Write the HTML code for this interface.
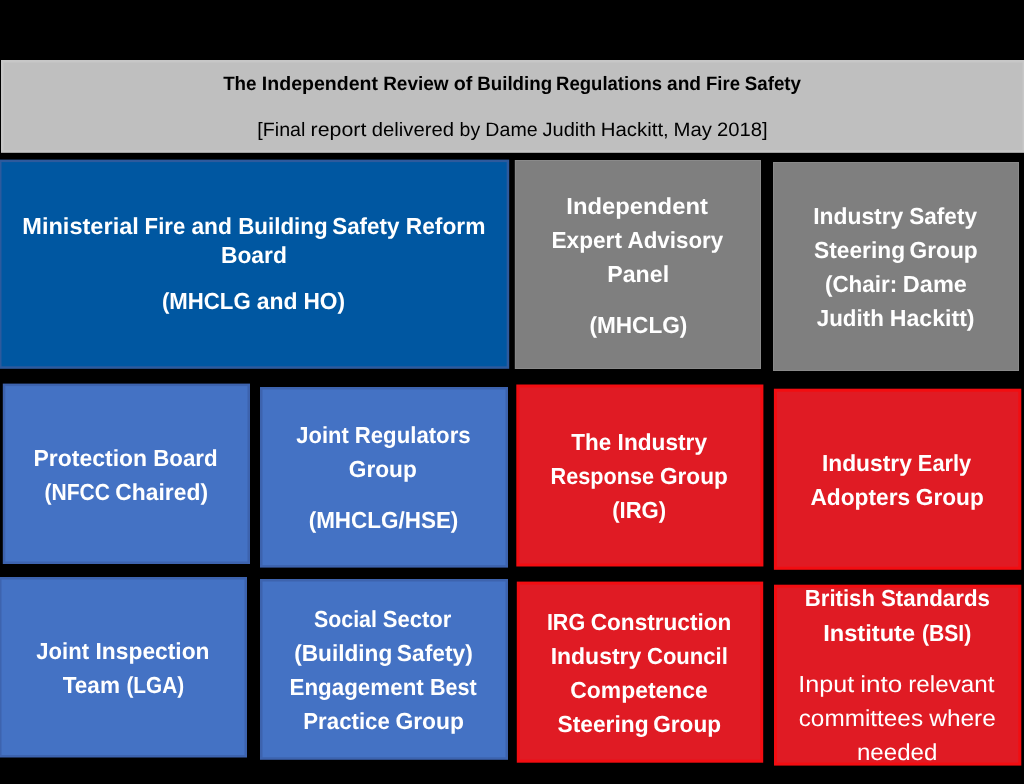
<!DOCTYPE html>
<html lang="en">
<head>
<meta charset="utf-8">
<title>The Independent Review of Building Regulations and Fire Safety</title>
<style>
html,body{margin:0;padding:0;background:#000;}
body{width:1024px;height:784px;overflow:hidden;}
svg#chart{display:block;width:1024px;height:784px;background:#000;}
text{font-family:"Liberation Sans",sans-serif;text-rendering:geometricPrecision;fill:#fff;font-size:23.2px;font-weight:700;}
.hdr text{fill:#000;font-size:19.4px;}
text.r{font-weight:400;}
</style>
</head>
<body>
<svg id="chart" width="1024" height="784" viewBox="0 0 1024 784">

<g class="box hdr" id="hdr">
<rect x="1" y="60" width="1024" height="92.8" fill="#c7c7c7"/>
<rect x="3.5" y="62.5" width="1019" height="87.8" fill="#bfbfbf"/>
<text y="90.00"><tspan x="223.13" textLength="33.44" lengthAdjust="spacingAndGlyphs">The</tspan> <tspan x="261.88" textLength="116.09" lengthAdjust="spacingAndGlyphs">Independent</tspan> <tspan x="383.16" textLength="65.43" lengthAdjust="spacingAndGlyphs">Review</tspan> <tspan x="453.67" textLength="18.61" lengthAdjust="spacingAndGlyphs">of</tspan> <tspan x="477.30" textLength="74.80" lengthAdjust="spacingAndGlyphs">Building</tspan> <tspan x="556.11" textLength="105.94" lengthAdjust="spacingAndGlyphs">Regulations</tspan> <tspan x="667.06" textLength="34.00" lengthAdjust="spacingAndGlyphs">and</tspan> <tspan x="706.05" textLength="33.93" lengthAdjust="spacingAndGlyphs">Fire</tspan> <tspan x="744.74" textLength="56.28" lengthAdjust="spacingAndGlyphs">Safety</tspan></text>
<text class="r" y="136.00"><tspan x="257.31" textLength="48.12" lengthAdjust="spacingAndGlyphs">[Final</tspan> <tspan x="310.64" textLength="55.73" lengthAdjust="spacingAndGlyphs">report</tspan> <tspan x="371.76" textLength="82.16" lengthAdjust="spacingAndGlyphs">delivered</tspan> <tspan x="459.57" textLength="20.60" lengthAdjust="spacingAndGlyphs">by</tspan> <tspan x="485.36" textLength="52.23" lengthAdjust="spacingAndGlyphs">Dame</tspan> <tspan x="542.56" textLength="53.45" lengthAdjust="spacingAndGlyphs">Judith</tspan> <tspan x="600.82" textLength="67.93" lengthAdjust="spacingAndGlyphs">Hackitt,</tspan> <tspan x="673.59" textLength="38.44" lengthAdjust="spacingAndGlyphs">May</tspan> <tspan x="717.00" textLength="50.67" lengthAdjust="spacingAndGlyphs">2018]</tspan></text>
</g>
<g class="box navy" id="b11">
<rect x="-1" y="159.6" width="510.2" height="209.2" fill="#2d5a9d"/>
<rect x="1.5" y="162.1" width="505.2" height="204.2" fill="#0057a1"/>
<text y="234.00"><tspan x="22.24" textLength="116.63" lengthAdjust="spacingAndGlyphs">Ministerial</tspan> <tspan x="144.61" textLength="40.60" lengthAdjust="spacingAndGlyphs">Fire</tspan> <tspan x="191.43" textLength="40.48" lengthAdjust="spacingAndGlyphs">and</tspan> <tspan x="238.17" textLength="89.40" lengthAdjust="spacingAndGlyphs">Building</tspan> <tspan x="332.18" textLength="67.32" lengthAdjust="spacingAndGlyphs">Safety</tspan> <tspan x="405.68" textLength="79.78" lengthAdjust="spacingAndGlyphs">Reform</tspan></text>
<text y="263.00"><tspan x="220.96" textLength="65.94" lengthAdjust="spacingAndGlyphs">Board</tspan></text>
<text y="309.00"><tspan x="161.92" textLength="88.78" lengthAdjust="spacingAndGlyphs">(MHCLG</tspan> <tspan x="256.67" textLength="40.82" lengthAdjust="spacingAndGlyphs">and</tspan> <tspan x="303.48" textLength="41.65" lengthAdjust="spacingAndGlyphs">HO)</tspan></text>
</g>
<g class="box grey" id="g12">
<rect x="514.8" y="160" width="246.2" height="209" fill="#8a8a8a"/>
<rect x="515.8" y="161" width="244.2" height="207" fill="#7f7f7f"/>
<text y="214.00"><tspan x="566.39" textLength="141.49" lengthAdjust="spacingAndGlyphs">Independent</tspan></text>
<text y="248.00"><tspan x="551.49" textLength="70.46" lengthAdjust="spacingAndGlyphs">Expert</tspan> <tspan x="627.51" textLength="95.73" lengthAdjust="spacingAndGlyphs">Advisory</tspan></text>
<text y="282.00"><tspan x="607.27" textLength="61.84" lengthAdjust="spacingAndGlyphs">Panel</tspan></text>
<text y="333.00"><tspan x="589.39" textLength="97.97" lengthAdjust="spacingAndGlyphs">(MHCLG)</tspan></text>
</g>
<g class="box grey" id="g13">
<rect x="773" y="162" width="246" height="209" fill="#8a8a8a"/>
<rect x="774" y="163" width="244" height="207" fill="#7f7f7f"/>
<text y="224.00"><tspan x="813.16" textLength="90.19" lengthAdjust="spacingAndGlyphs">Industry</tspan> <tspan x="909.22" textLength="67.76" lengthAdjust="spacingAndGlyphs">Safety</tspan></text>
<text y="258.00"><tspan x="813.98" textLength="91.07" lengthAdjust="spacingAndGlyphs">Steering</tspan> <tspan x="909.47" textLength="68.30" lengthAdjust="spacingAndGlyphs">Group</tspan></text>
<text y="292.00"><tspan x="824.92" textLength="72.29" lengthAdjust="spacingAndGlyphs">(Chair:</tspan> <tspan x="902.81" textLength="64.17" lengthAdjust="spacingAndGlyphs">Dame</tspan></text>
<text y="326.00"><tspan x="816.80" textLength="67.00" lengthAdjust="spacingAndGlyphs">Judith</tspan> <tspan x="889.76" textLength="84.79" lengthAdjust="spacingAndGlyphs">Hackitt)</tspan></text>
</g>
<g class="box blue" id="b21">
<rect x="2.8" y="383.6" width="247.2" height="180.4" fill="#3d63ae"/>
<rect x="5.3" y="386.1" width="242.2" height="175.4" fill="#4472c4"/>
<text y="466.00"><tspan x="33.56" textLength="113.58" lengthAdjust="spacingAndGlyphs">Protection</tspan> <tspan x="153.20" textLength="64.45" lengthAdjust="spacingAndGlyphs">Board</tspan></text>
<text y="500.00"><tspan x="44.41" textLength="65.52" lengthAdjust="spacingAndGlyphs">(NFCC</tspan> <tspan x="115.31" textLength="92.73" lengthAdjust="spacingAndGlyphs">Chaired)</tspan></text>
</g>
<g class="box blue" id="b22">
<rect x="260" y="387" width="248" height="180.6" fill="#3d63ae"/>
<rect x="262.5" y="389.5" width="243" height="175.6" fill="#4472c4"/>
<text y="443.00"><tspan x="296.30" textLength="52.40" lengthAdjust="spacingAndGlyphs">Joint</tspan> <tspan x="354.78" textLength="115.87" lengthAdjust="spacingAndGlyphs">Regulators</tspan></text>
<text y="477.00"><tspan x="348.78" textLength="68.04" lengthAdjust="spacingAndGlyphs">Group</tspan></text>
<text y="528.00"><tspan x="308.67" textLength="149.70" lengthAdjust="spacingAndGlyphs">(MHCLG/HSE)</tspan></text>
</g>
<g class="box red" id="r23">
<rect x="516.3" y="384.5" width="247.1" height="182" fill="#f20d11"/>
<rect x="519.3" y="387.5" width="241.1" height="176" fill="#e01b24"/>
<text y="450.00"><tspan x="571.24" textLength="39.92" lengthAdjust="spacingAndGlyphs">The</tspan> <tspan x="617.62" textLength="89.43" lengthAdjust="spacingAndGlyphs">Industry</tspan></text>
<text y="484.00"><tspan x="550.50" textLength="103.63" lengthAdjust="spacingAndGlyphs">Response</tspan> <tspan x="659.91" textLength="67.93" lengthAdjust="spacingAndGlyphs">Group</tspan></text>
<text y="518.00"><tspan x="612.17" textLength="53.97" lengthAdjust="spacingAndGlyphs">(IRG)</tspan></text>
</g>
<g class="box red" id="r24">
<rect x="773.9" y="388.7" width="247.4" height="181.1" fill="#f20d11"/>
<rect x="776.9" y="391.7" width="241.4" height="175.1" fill="#e01b24"/>
<text y="471.00"><tspan x="821.92" textLength="89.94" lengthAdjust="spacingAndGlyphs">Industry</tspan> <tspan x="917.83" textLength="53.37" lengthAdjust="spacingAndGlyphs">Early</tspan></text>
<text y="505.00"><tspan x="810.43" textLength="99.80" lengthAdjust="spacingAndGlyphs">Adopters</tspan> <tspan x="915.80" textLength="67.94" lengthAdjust="spacingAndGlyphs">Group</tspan></text>
</g>
<g class="box blue" id="b31">
<rect x="-1" y="577" width="248" height="180.5" fill="#3d63ae"/>
<rect x="1.5" y="579.5" width="243" height="175.5" fill="#4472c4"/>
<text y="659.00"><tspan x="36.30" textLength="52.70" lengthAdjust="spacingAndGlyphs">Joint</tspan> <tspan x="95.53" textLength="114.01" lengthAdjust="spacingAndGlyphs">Inspection</tspan></text>
<text y="693.00"><tspan x="62.74" textLength="57.22" lengthAdjust="spacingAndGlyphs">Team</tspan> <tspan x="126.45" textLength="57.69" lengthAdjust="spacingAndGlyphs">(LGA)</tspan></text>
</g>
<g class="box blue" id="b32">
<rect x="260" y="579" width="248" height="180.8" fill="#3d63ae"/>
<rect x="262.5" y="581.5" width="243" height="175.8" fill="#4472c4"/>
<text y="627.00"><tspan x="313.98" textLength="62.93" lengthAdjust="spacingAndGlyphs">Social</tspan> <tspan x="382.81" textLength="68.55" lengthAdjust="spacingAndGlyphs">Sector</tspan></text>
<text y="661.00"><tspan x="294.17" textLength="98.14" lengthAdjust="spacingAndGlyphs">(Building</tspan> <tspan x="396.81" textLength="75.96" lengthAdjust="spacingAndGlyphs">Safety)</tspan></text>
<text y="695.00"><tspan x="289.49" textLength="134.28" lengthAdjust="spacingAndGlyphs">Engagement</tspan> <tspan x="429.99" textLength="46.77" lengthAdjust="spacingAndGlyphs">Best</tspan></text>
<text y="729.00"><tspan x="303.30" textLength="86.50" lengthAdjust="spacingAndGlyphs">Practice</tspan> <tspan x="395.41" textLength="68.56" lengthAdjust="spacingAndGlyphs">Group</tspan></text>
</g>
<g class="box red" id="r33">
<rect x="516.8" y="581.6" width="246.4" height="181.1" fill="#f20d11"/>
<rect x="519.8" y="584.6" width="240.4" height="175.1" fill="#e01b24"/>
<text y="630.00"><tspan x="546.90" textLength="38.29" lengthAdjust="spacingAndGlyphs">IRG</tspan> <tspan x="590.69" textLength="140.67" lengthAdjust="spacingAndGlyphs">Construction</tspan></text>
<text y="664.00"><tspan x="550.65" textLength="90.72" lengthAdjust="spacingAndGlyphs">Industry</tspan> <tspan x="646.95" textLength="80.94" lengthAdjust="spacingAndGlyphs">Council</tspan></text>
<text y="698.00"><tspan x="570.22" textLength="137.57" lengthAdjust="spacingAndGlyphs">Competence</tspan></text>
<text y="732.00"><tspan x="557.48" textLength="91.07" lengthAdjust="spacingAndGlyphs">Steering</tspan> <tspan x="653.22" textLength="67.80" lengthAdjust="spacingAndGlyphs">Group</tspan></text>
</g>
<g class="box red" id="r34">
<rect x="774" y="584.7" width="247.3" height="180.9" fill="#f20d11"/>
<rect x="777" y="587.7" width="241.3" height="174.9" fill="#e01b24"/>
<text y="606.00"><tspan x="804.79" textLength="70.22" lengthAdjust="spacingAndGlyphs">British</tspan> <tspan x="880.94" textLength="109.03" lengthAdjust="spacingAndGlyphs">Standards</tspan></text>
<text y="641.00"><tspan x="823.20" textLength="91.93" lengthAdjust="spacingAndGlyphs">Institute</tspan> <tspan x="921.92" textLength="49.41" lengthAdjust="spacingAndGlyphs">(BSI)</tspan></text>
<text class="r" y="692.00"><tspan x="798.35" textLength="55.92" lengthAdjust="spacingAndGlyphs">Input</tspan> <tspan x="860.30" textLength="42.10" lengthAdjust="spacingAndGlyphs">into</tspan> <tspan x="908.29" textLength="86.21" lengthAdjust="spacingAndGlyphs">relevant</tspan></text>
<text class="r" y="726.00"><tspan x="798.71" textLength="124.34" lengthAdjust="spacingAndGlyphs">committees</tspan> <tspan x="929.22" textLength="66.66" lengthAdjust="spacingAndGlyphs">where</tspan></text>
<text class="r" y="760.00"><tspan x="856.97" textLength="80.36" lengthAdjust="spacingAndGlyphs">needed</tspan></text>
</g>
</svg>
</body>
</html>
